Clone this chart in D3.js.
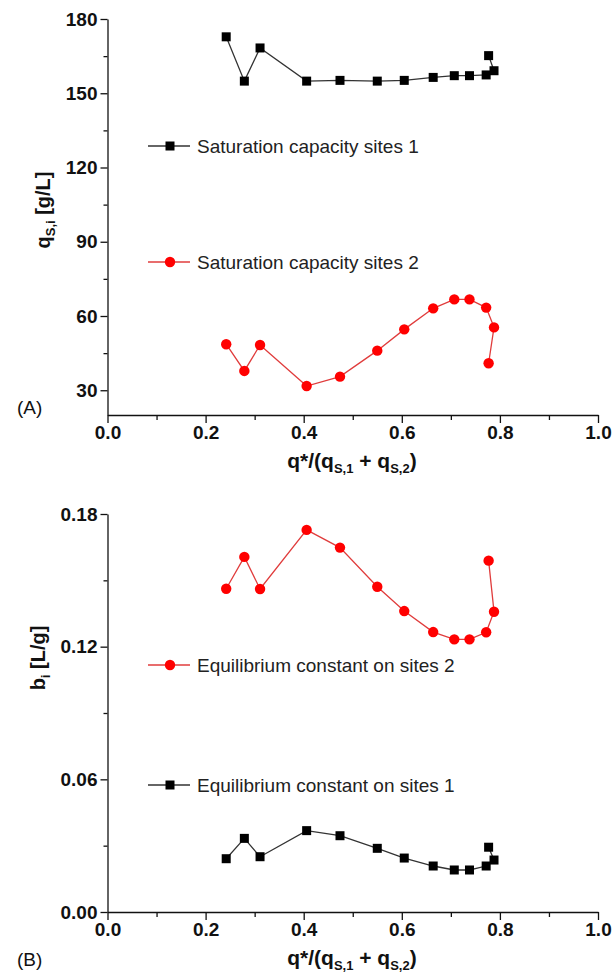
<!DOCTYPE html>
<html>
<head>
<meta charset="utf-8">
<script src="https://cdn.jsdelivr.net/npm/d3@7"></script>
<style>
  body { margin: 0; background: #fff; }
  svg { display: block; font-family: "Liberation Sans", Arial, sans-serif; }
  .tick text { font-weight: bold; font-size: 19px; fill: #111; }
  .domain, .tick line { stroke: #111; stroke-width: 1.3px; }
</style>
</head>
<body>
<svg id="chart" width="616" height="977"></svg>
<script>
// x = q*/(qS,1 + qS,2)
xVals = [0.242, 0.279, 0.311, 0.406, 0.474, 0.550, 0.605, 0.664, 0.707, 0.738, 0.772, 0.788, 0.777];
// panel A: saturation capacities [g/L]
qs1 = [172.8, 154.9, 168.3, 154.9, 155.2, 154.9, 155.2, 156.4, 157.1, 157.1, 157.4, 159.1, 165.2];
qs2 = [48.6, 37.8, 48.3, 31.7, 35.5, 46.0, 54.6, 63.1, 66.7, 66.7, 63.4, 55.4, 40.9];
// panel B: equilibrium constants [L/g]
b1 = [0.0241, 0.0333, 0.0250, 0.0368, 0.0345, 0.0288, 0.0244, 0.0208, 0.0190, 0.0190, 0.0208, 0.0235, 0.0293];
b2 = [0.1462, 0.1606, 0.1461, 0.1728, 0.1648, 0.1471, 0.1361, 0.1266, 0.1233, 0.1233, 0.1265, 0.1358, 0.1589];

xTicks = [0, 0.2, 0.4, 0.6, 0.8, 1.0];
xMinor = [0.1, 0.3, 0.5, 0.7, 0.9];
yTicksA = [30, 60, 90, 120, 150, 180];
yMinorA = [45, 75, 105, 135, 165];
yTicksB = [0, 0.06, 0.12, 0.18];
yMinorB = [0.03, 0.09, 0.15];

svg = d3.select("#chart");

function panel(cfg) {
  var x = d3.scaleLinear().domain([0, 1]).range([107.5, 598]);
  var y = d3.scaleLinear().domain(cfg.ydom).range([cfg.bottom, cfg.top]);
  var g = svg.append("g");

  // minor ticks
  g.append("g").attr("transform", "translate(0," + cfg.bottom + ")")
    .call(d3.axisBottom(x).tickValues(xMinor).tickSize(5).tickFormat(""))
    .select(".domain").remove();
  g.append("g").attr("transform", "translate(107.5,0)")
    .call(d3.axisLeft(y).tickValues(cfg.yMinor).tickSize(4).tickFormat(""))
    .select(".domain").remove();

  // major axes
  g.append("g").attr("transform", "translate(0," + cfg.bottom + ")")
    .call(d3.axisBottom(x).tickValues(xTicks).tickSize(8).tickSizeOuter(0).tickPadding(3)
      .tickFormat(d3.format(".1f")));
  g.append("g").attr("transform", "translate(107.5,0)")
    .call(d3.axisLeft(y).tickValues(cfg.yTicks).tickSize(7).tickSizeOuter(0).tickPadding(3)
      .tickFormat(cfg.yfmt));

  // x title
  var xt = g.append("text").attr("x", 352).attr("y", cfg.bottom + 53)
    .attr("text-anchor", "middle").attr("font-weight", "bold").attr("font-size", "21px").attr("fill", "#111");
  xt.append("tspan").text("q*/(q");
  xt.append("tspan").text("S,1").attr("font-size", "13px").attr("dy", 5);
  xt.append("tspan").text(" + q").attr("dy", -5);
  xt.append("tspan").text("S,2").attr("font-size", "13px").attr("dy", 5);
  xt.append("tspan").text(")").attr("dy", -5);

  // y title
  var yt = g.append("text")
    .attr("transform", "translate(" + cfg.ytx + "," + cfg.yty + ") rotate(-90)")
    .attr("text-anchor", "middle").attr("font-weight", "bold").attr("font-size", "20px").attr("fill", "#111");
  cfg.ytitle(yt);

  // panel letter
  g.append("text").attr("x", 17).attr("y", cfg.letterY).attr("font-size", "19px").attr("fill", "#111")
    .text(cfg.letter);

  // series
  cfg.series.forEach(function(s) {
    var pts = xVals.map(function(v, i) { return [x(v), y(s.values[i])]; });
    g.append("path").attr("d", d3.line()(pts))
      .attr("fill", "none").attr("stroke", s.line).attr("stroke-width", 1.3);
    if (s.shape == "square") {
      g.selectAll(null).data(pts).enter().append("rect")
        .attr("x", function(d) { return d[0] - 4.5; }).attr("y", function(d) { return d[1] - 4.5; })
        .attr("width", 9).attr("height", 9).attr("fill", "#000");
    } else {
      g.selectAll(null).data(pts).enter().append("circle")
        .attr("cx", function(d) { return d[0]; }).attr("cy", function(d) { return d[1]; })
        .attr("r", 5.2).attr("fill", "#f00");
    }
    // legend entry
    var ly = s.legendY;
    g.append("line").attr("x1", 148).attr("x2", 190).attr("y1", ly).attr("y2", ly)
      .attr("stroke", s.line).attr("stroke-width", 1.3);
    if (s.shape == "square") {
      g.append("rect").attr("x", 165.5).attr("y", ly - 4.5).attr("width", 9).attr("height", 9).attr("fill", "#000");
    } else {
      g.append("circle").attr("cx", 170).attr("cy", ly).attr("r", 5.2).attr("fill", "#f00");
    }
    g.append("text").attr("x", 197).attr("y", ly + 6.5).attr("font-size", "19px").attr("fill", "#222")
      .text(s.name);
  });
}

panel({
  ydom: [20, 180], top: 19, bottom: 415,
  yTicks: yTicksA, yMinor: yMinorA, yfmt: d3.format("d"),
  ytx: 50, yty: 210, letter: "(A)", letterY: 414,
  ytitle: function(t) {
    t.append("tspan").text("q");
    t.append("tspan").text("S,i").attr("font-size", "13px").attr("dy", 5);
    t.append("tspan").text("  [g/L]").attr("dy", -5);
  },
  series: [
    { name: "Saturation capacity sites 1", values: qs1, shape: "square", line: "#333", legendY: 146 },
    { name: "Saturation capacity sites 2", values: qs2, shape: "circle", line: "#e03c3c", legendY: 262 }
  ]
});

panel({
  ydom: [0, 0.18], top: 514, bottom: 912,
  yTicks: yTicksB, yMinor: yMinorB, yfmt: d3.format(".2f"),
  ytx: 45, yty: 658, letter: "(B)", letterY: 966,
  ytitle: function(t) {
    t.append("tspan").text("b");
    t.append("tspan").text("i").attr("font-size", "13px").attr("dy", 5);
    t.append("tspan").text(" [L/g]").attr("dy", -5);
  },
  series: [
    { name: "Equilibrium constant on sites 1", values: b1, shape: "square", line: "#333", legendY: 785 },
    { name: "Equilibrium constant on sites 2", values: b2, shape: "circle", line: "#e03c3c", legendY: 665 }
  ]
});
</script>
</body>
</html>
